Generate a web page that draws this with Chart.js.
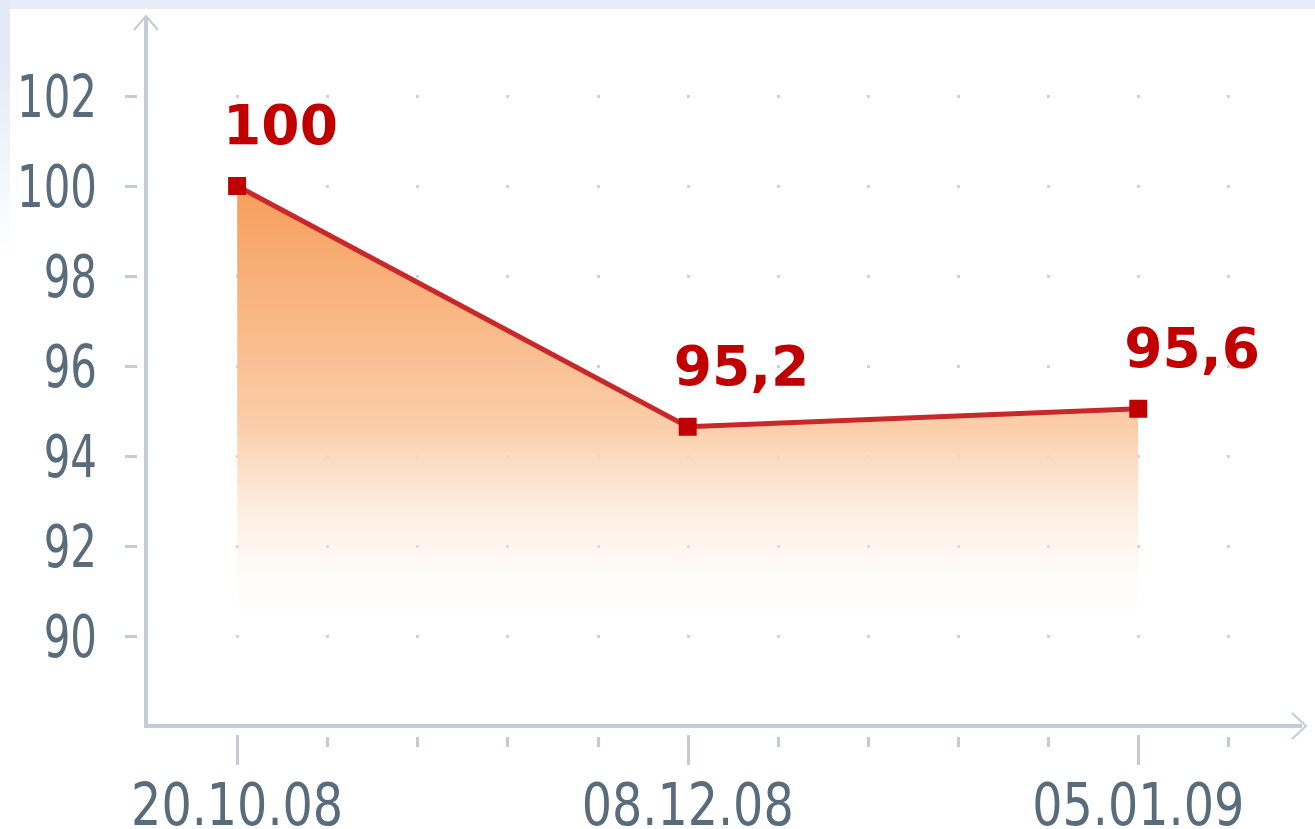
<!DOCTYPE html>
<html>
<head>
<meta charset="utf-8">
<script src="https://cdn.jsdelivr.net/npm/chart.js@4.4.1/dist/chart.umd.min.js"></script>
<style>
  html, body { margin: 0; padding: 0; }
  body {
    width: 1315px; height: 829px; overflow: hidden; position: relative;
    background: linear-gradient(#e6edf8 0, #e6edf8 9px, #ffffff 9px);
  }
  #side { position: absolute; left: 0; top: 0; width: 10px; height: 260px;
    background: linear-gradient(#e3eaf6, #e3eaf6 60px, #ffffff); }
  #wrap { position: absolute; left: 0; top: 0; width: 1315px; height: 829px; }
</style>
</head>
<body>
<div id="side"></div>
<div id="wrap"><canvas id="stage"></canvas></div>
<script>
// categories sit on the 0..11 tick positions, labelled only at 0, 5, 10
const dates = ['20.10.08', '08.12.08', '05.01.09'];
const datePos = [0, 5, 10];
const values = [100, 94.65, 95.05];        // where the points are drawn
const valueText = ['100', '95,2', '95,6'];  // what the labels say
const yTicks = [90, 92, 94, 96, 98, 100, 102];
const xTicks = [0, 1, 2, 3, 4, 5, 6, 7, 8, 9, 10, 11];

const axisColor = '#c3ccd6';
const tickTextColor = '#596c7c';

function noPad(s) {
  s.paddingTop = 0; s.paddingBottom = 0; s.paddingLeft = 0; s.paddingRight = 0;
}

const axesPlugin = {
  id: 'axes',
  beforeDatasetsDraw(chart) {
    const c = chart.ctx, xs = chart.scales.x, ys = chart.scales.y;
    const left = chart.chartArea.left, bottom = chart.chartArea.bottom;
    c.save();
    // dotted grid
    c.fillStyle = '#d0d4d9';
    xTicks.forEach(t => {
      yTicks.forEach(v => {
        c.fillRect(Math.round(xs.getPixelForValue(t)) - 1, Math.round(ys.getPixelForValue(v)) - 1, 3, 3);
      });
    });
    c.fillStyle = axisColor;
    // y tick marks
    yTicks.forEach(v => {
      c.fillRect(left - 20, Math.round(ys.getPixelForValue(v)) - 1, 12, 3);
    });
    // x tick marks
    xTicks.forEach(t => {
      const x = Math.round(xs.getPixelForValue(t)) - 1;
      if (datePos.includes(t)) c.fillRect(x, bottom + 9, 3, 30);
      else c.fillRect(x, bottom + 11, 3, 10);
    });
    // axis lines
    c.strokeStyle = axisColor;
    c.lineWidth = 4;
    c.beginPath();
    c.moveTo(left + 1, 18);
    c.lineTo(left + 1, bottom);
    c.lineTo(1302, bottom);
    c.stroke();
    // arrows
    c.lineWidth = 2;
    c.beginPath();
    c.moveTo(left - 11, 30); c.lineTo(left + 1, 16); c.lineTo(left + 13, 30);
    c.moveTo(1292, bottom - 13); c.lineTo(1306, bottom); c.lineTo(1292, bottom + 13);
    c.stroke();

    // tick labels: narrow, tall digits, squeezed horizontally
    c.fillStyle = tickTextColor;
    c.font = '58px "DejaVu Sans", sans-serif';
    c.textBaseline = 'alphabetic';
    const ySquash = 80 / c.measureText('102').width;
    c.textAlign = 'right';
    yTicks.forEach(v => {
      const y = ys.getPixelForValue(v);
      c.save();
      c.translate(97, y + 21);
      c.scale(ySquash, 1);
      c.fillText(String(v), 0, 0);
      c.restore();
    });
    const xSquash = 212 / c.measureText('20.10.08').width;
    c.textAlign = 'center';
    datePos.forEach((t, i) => {
      c.save();
      c.translate(xs.getPixelForValue(t), 825);
      c.scale(xSquash, 1);
      c.fillText(dates[i], 0, 0);
      c.restore();
    });
    c.restore();
  },
  afterDatasetsDraw(chart) {
    const c = chart.ctx;
    const meta = chart.getDatasetMeta(0);
    c.save();
    c.fillStyle = '#c00000';
    c.font = 'bold 55px "DejaVu Sans", sans-serif';
    c.textAlign = 'left';
    c.textBaseline = 'alphabetic';
    meta.data.forEach((p, i) => {
      c.fillText(valueText[i], p.x - 14, p.y - 42);
    });
    c.restore();
  }
};

new Chart(document.getElementById('stage'), {
  type: 'line',
  data: {
    datasets: [{
      data: values.map((v, i) => ({ x: datePos[i], y: v })),
      borderColor: '#c9282b',
      borderWidth: 5,
      tension: 0,
      pointStyle: 'rect',
      pointRadius: 12.7,
      pointHoverRadius: 12.7,
      pointBorderWidth: 0,
      pointBackgroundColor: '#c00000',
      fill: 'start',
      backgroundColor: (ctx) => {
        const chart = ctx.chart;
        if (!chart.chartArea) return 'transparent';
        const ys = chart.scales.y;
        const g = chart.ctx.createLinearGradient(0, ys.getPixelForValue(100), 0, ys.getPixelForValue(90.2));
        g.addColorStop(0, 'rgba(246,158,90,1)');
        g.addColorStop(0.55, 'rgba(251,206,170,1)');
        g.addColorStop(1, 'rgba(255,250,245,0)');
        return g;
      }
    }]
  },
  options: {
    responsive: true,
    maintainAspectRatio: false,
    animation: false,
    layout: { padding: { top: 15, right: 10, left: 0, bottom: 0 } },
    plugins: { legend: { display: false }, tooltip: { enabled: false } },
    scales: {
      x: {
        type: 'linear',
        min: -1.022,
        max: 11.82,
        afterBuildTicks: (s) => { s.ticks = xTicks.map(v => ({ value: v })); },
        afterFit: (s) => { s.height = 103; noPad(s); },
        border: { display: false },
        grid: { display: false },
        ticks: { display: false }
      },
      y: {
        min: 88,
        max: 103.8,
        afterBuildTicks: (s) => { s.ticks = yTicks.map(v => ({ value: v })); },
        afterFit: (s) => { s.width = 145; noPad(s); },
        border: { display: false },
        grid: { display: false },
        ticks: { display: false }
      }
    }
  },
  plugins: [axesPlugin]
});
</script>
</body>
</html>
